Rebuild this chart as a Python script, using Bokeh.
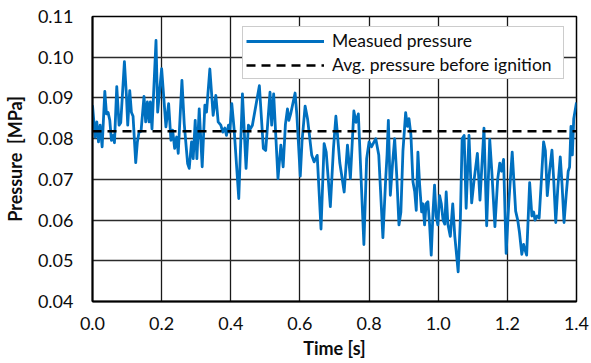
from bokeh.plotting import figure
from bokeh.models import Range1d, FixedTicker, PrintfTickFormatter, Legend, LegendItem
from bokeh.embed import file_html
from bokeh.resources import INLINE

# ---- data ----
time_s = [
    0.0000, 0.0077, 0.0125, 0.0173, 0.0221, 0.0279, 0.0356, 0.0404, 0.0452, 0.0500,
    0.0548, 0.0596, 0.0635, 0.0702, 0.0769, 0.0817, 0.0923, 0.0981, 0.1019, 0.1077,
    0.1125, 0.1173, 0.1250, 0.1298, 0.1346, 0.1404, 0.1490, 0.1538, 0.1587, 0.1635,
    0.1673, 0.1721, 0.1837, 0.1885, 0.2000, 0.2124, 0.2202, 0.2269, 0.2318, 0.2376,
    0.2434, 0.2480, 0.2587, 0.2653, 0.2751, 0.2798, 0.2865, 0.2913, 0.2971, 0.3019,
    0.3087, 0.3173, 0.3250, 0.3298, 0.3394, 0.3490, 0.3567, 0.3635, 0.3712, 0.3769,
    0.3827, 0.3875, 0.3933, 0.3971, 0.4029, 0.4096, 0.4231, 0.4337, 0.4442, 0.4510,
    0.4567, 0.4625, 0.4827, 0.4942, 0.5010, 0.5135, 0.5183, 0.5240, 0.5365, 0.5448,
    0.5515, 0.5580, 0.5640, 0.5680, 0.5730, 0.5860, 0.5910, 0.6010, 0.6060, 0.6150,
    0.6220, 0.6340, 0.6410, 0.6500, 0.6610, 0.6700, 0.6760, 0.6880, 0.6970, 0.7040,
    0.7080, 0.7154, 0.7280, 0.7375, 0.7460, 0.7560, 0.7620, 0.7690, 0.7850, 0.7930,
    0.8000, 0.8070, 0.8194, 0.8280, 0.8400, 0.8480, 0.8520, 0.8558, 0.8615, 0.8680,
    0.8740, 0.8800, 0.8865, 0.8920, 0.8980, 0.9058, 0.9110, 0.9154, 0.9210, 0.9269,
    0.9320, 0.9365, 0.9413, 0.9460, 0.9520, 0.9560, 0.9606, 0.9650, 0.9702, 0.9750,
    0.9798, 0.9850, 0.9894, 0.9940, 0.9990, 1.0040, 1.0090, 1.0140, 1.0190, 1.0231,
    1.0280, 1.0350, 1.0420, 1.0480, 1.0577, 1.0640, 1.0692, 1.0750, 1.0808, 1.0890,
    1.0968, 1.1040, 1.1133, 1.1208, 1.1324, 1.1402, 1.1490, 1.1550, 1.1640, 1.1720,
    1.1780, 1.1830, 1.1890, 1.1965, 1.2040, 1.2140, 1.2240, 1.2300, 1.2350, 1.2418,
    1.2470, 1.2500, 1.2558, 1.2645, 1.2710, 1.2760, 1.2800, 1.2860, 1.2920, 1.3048,
    1.3100, 1.3155, 1.3220, 1.3290, 1.3340, 1.3400, 1.3460, 1.3530, 1.3580, 1.3640,
    1.3700, 1.3760, 1.3800, 1.3840, 1.3880, 1.3920, 1.4000,
]
pressure_mpa = [
    0.0882, 0.0804, 0.0841, 0.0792, 0.0833, 0.0780, 0.0916, 0.0861, 0.0864, 0.0845,
    0.0796, 0.0808, 0.0790, 0.0928, 0.0833, 0.0839, 0.0989, 0.0906, 0.0833, 0.0918,
    0.0865, 0.0855, 0.0741, 0.0792, 0.0816, 0.0818, 0.0904, 0.0841, 0.0890, 0.0841,
    0.0890, 0.0824, 0.1041, 0.0865, 0.0972, 0.0829, 0.0886, 0.0796, 0.0821, 0.0776,
    0.0804, 0.0764, 0.0943, 0.0837, 0.0739, 0.0727, 0.0792, 0.0751, 0.0845, 0.0751,
    0.0873, 0.0731, 0.0882, 0.0865, 0.0971, 0.0857, 0.0906, 0.0841, 0.0833, 0.0816,
    0.0826, 0.0808, 0.0833, 0.0816, 0.0886, 0.0824, 0.0653, 0.0910, 0.0727, 0.0833,
    0.0824, 0.0833, 0.0930, 0.0776, 0.0771, 0.0914, 0.0833, 0.0910, 0.0702, 0.0784,
    0.0731, 0.0835, 0.0873, 0.0845, 0.0860, 0.0912, 0.0860, 0.0708, 0.0792, 0.0880,
    0.0849, 0.0760, 0.0743, 0.0759, 0.0578, 0.0788, 0.0767, 0.0633, 0.0776, 0.0855,
    0.0816, 0.0740, 0.0669, 0.0784, 0.0702, 0.0868, 0.0840, 0.0861, 0.0540, 0.0751,
    0.0792, 0.0780, 0.0800, 0.0760, 0.0557, 0.0700, 0.0760, 0.0845, 0.0661, 0.0740,
    0.0800, 0.0710, 0.0588, 0.0620, 0.0770, 0.0864, 0.0830, 0.0849, 0.0810, 0.0694,
    0.0670, 0.0624, 0.0767, 0.0690, 0.0620, 0.0640, 0.0588, 0.0640, 0.0645, 0.0590,
    0.0514, 0.0620, 0.0686, 0.0610, 0.0588, 0.0660, 0.0640, 0.0600, 0.0590, 0.0669,
    0.0590, 0.0560, 0.0640, 0.0560, 0.0473, 0.0600, 0.0800, 0.0808, 0.0629, 0.0808,
    0.0642, 0.0700, 0.0764, 0.0649, 0.0826, 0.0586, 0.0798, 0.0720, 0.0584, 0.0700,
    0.0740, 0.0720, 0.0749, 0.0518, 0.0640, 0.0767, 0.0622, 0.0600, 0.0570, 0.0516,
    0.0540, 0.0530, 0.0514, 0.0692, 0.0610, 0.0620, 0.0600, 0.0610, 0.0605, 0.0792,
    0.0770, 0.0660, 0.0720, 0.0772, 0.0700, 0.0594, 0.0680, 0.0755, 0.0690, 0.0594,
    0.0660, 0.0720, 0.0730, 0.0830, 0.0760, 0.0849, 0.0889,
]
avg_pressure = 0.0818
series_names = ["Measued pressure", "Avg. pressure before ignition"]
x_ticks = [0.0, 0.2, 0.4, 0.6, 0.8, 1.0, 1.2, 1.4]
y_ticks = [0.04, 0.05, 0.06, 0.07, 0.08, 0.09, 0.10, 0.11]
x_label = "Time [s]"
y_label = "Pressure\u00a0 [MPa]"

FONT = "Lato"
TXT = "#0d0d0d"

p = figure(width=591, height=363, output_backend="svg", toolbar_location=None,
           x_range=Range1d(x_ticks[0], x_ticks[-1]), y_range=Range1d(y_ticks[0], y_ticks[-1]),
           min_border_left=92, min_border_right=15, min_border_top=16, min_border_bottom=62)
p.background_fill_color = "white"
p.border_fill_color = "white"
p.outline_line_color = "black"
p.outline_line_width = 1.5

# grid
p.xgrid.ticker = FixedTicker(ticks=x_ticks)
p.ygrid.ticker = FixedTicker(ticks=y_ticks)
p.xgrid.grid_line_color = "#1a1a1a"
p.ygrid.grid_line_color = "#2b2b2b"
p.xgrid.grid_line_width = 1.3
p.ygrid.grid_line_width = 1.4

# axes
for ax in (p.xaxis[0], p.yaxis[0]):
    ax.major_tick_out = 0
    ax.major_tick_in = 0
    ax.minor_tick_out = 0
    ax.minor_tick_in = 0
    ax.axis_line_color = "black"
    ax.axis_line_width = 2
    ax.major_label_text_font = FONT
    ax.major_label_text_font_size = "18px"
    ax.major_label_text_color = TXT
    ax.axis_label_text_font = FONT
    ax.axis_label_text_font_size = "18px"
    ax.axis_label_text_font_style = "bold"
    ax.axis_label_text_color = TXT

p.xaxis.ticker = FixedTicker(ticks=x_ticks)
p.yaxis.ticker = FixedTicker(ticks=y_ticks)
p.xaxis.formatter = PrintfTickFormatter(format="%.1f")
p.yaxis.formatter = PrintfTickFormatter(format="%.2f")
p.xaxis.axis_label = x_label
p.yaxis.axis_label = y_label
p.xaxis.major_label_standoff = 15
p.xaxis.axis_label_standoff = 4
p.yaxis.major_label_standoff = 19
p.yaxis.axis_label_standoff = 9

# series
r_meas = p.line(time_s, pressure_mpa, line_color="#0070C0", line_width=2.8, line_join="round")
r_avg = p.line([time_s[0], time_s[-1]], [avg_pressure, avg_pressure],
               line_color="black", line_width=2.5, line_dash="9 6")

legend = Legend(items=[LegendItem(label=series_names[0], renderers=[r_meas]),
                       LegendItem(label=series_names[1], renderers=[r_avg])],
                location=(150, 222))
legend.label_text_font = FONT
legend.label_text_font_size = "17.5px"
legend.label_text_color = TXT
legend.glyph_width = 78
legend.glyph_height = 20
legend.label_height = 20
legend.label_width = 228
legend.label_standoff = 8
legend.spacing = 3
legend.padding = 3
legend.margin = 0
legend.border_line_color = "#9a9a9a"
legend.border_line_width = 1.5
legend.background_fill_color = "white"
legend.background_fill_alpha = 1.0
p.add_layout(legend, "center")

open("out.html", "w").write(file_html(p, INLINE))
